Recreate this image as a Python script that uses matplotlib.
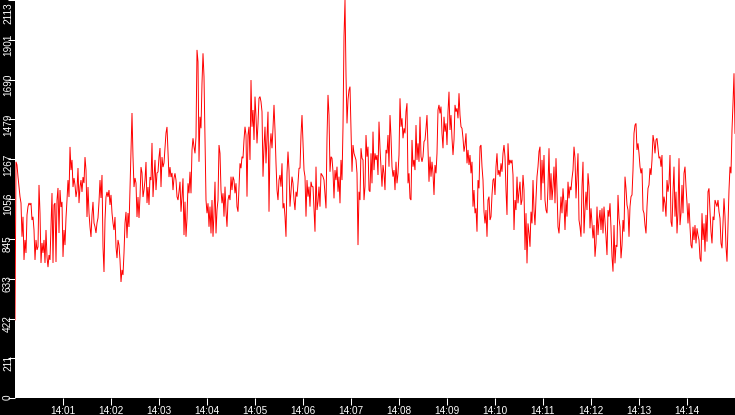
import pandas as pd
import matplotlib
matplotlib.use("Agg")
import matplotlib.pyplot as plt
import matplotlib.dates as mdates
import matplotlib.transforms as mtransforms

plt.rcParams["font.family"] = ["Liberation Sans", "DejaVu Sans"]
plt.rcParams["font.size"] = 7.2

# readings taken off the chart, one block per ~100 s of the 15 minute window
seg1 = [414, 1254, 1237, 1175, 1122, 1069, 1035, 856, 962, 733,
        839, 770, 972, 1016, 1035, 1025, 1035, 945, 962, 892,
        733, 839, 786, 803, 1131, 982, 717, 823, 770, 839,
        717, 892, 749, 695, 759, 733, 908, 1088, 717, 1025,
        1035, 722, 1051, 1115, 876, 1104, 1014, 1041, 749, 892,
        812, 956, 1051, 1157, 1067, 1333, 1210, 1264, 1120, 1168,
        1131, 1067, 1104, 1221, 1035, 1120, 1157, 1094, 1173, 1141,
        1279, 1210, 961, 1120, 982, 908, 855, 972, 1041, 929]
seg2 = [909, 876, 929, 956, 1041, 1157, 1062, 1184, 802, 669,
        945, 1067, 1094, 1067, 1104, 1025, 1078, 982, 929, 892,
        961, 802, 743, 839, 812, 733, 616, 680, 653, 770,
        929, 988, 849, 982, 908, 1104, 1306, 1513, 1279, 1120,
        1168, 1141, 961, 1067, 956, 1067, 1226, 1195, 1067, 1104,
        1157, 1253, 1035, 1120, 1025, 1173, 1157, 1354, 1067, 1173,
        1264, 1104, 1195, 1200, 1279, 1327, 1120, 1279, 1226, 1248,
        1327, 1407, 1439, 1306, 1173, 1226, 1173, 1195, 1104, 1168]
seg3 = [1193, 1157, 1069, 1051, 1095, 1148, 989, 1069, 1166, 865,
        1042, 856, 954, 1140, 1087, 1201, 1087, 1317, 1379, 1334,
        1299, 1387, 1848, 1785, 1254, 1493, 1432, 1671, 1830, 1706,
        1370, 1051, 981, 1034, 909, 1016, 874, 1051, 856, 981,
        1148, 874, 998, 1051, 1343, 1299, 1104, 1034, 1087, 963,
        1122, 989, 909, 1051, 1078, 1051, 1175, 1104, 1175, 1157,
        1087, 1140, 1016, 989, 1122, 1246, 1220, 1281, 1273, 1370,
        1440, 1396, 1069, 1396, 1440, 1264, 1688, 1440, 1529, 1370]
seg4 = [1600, 1493, 1352, 1458, 1591, 1600, 1573, 1520, 1175, 1334,
        1440, 1246, 1387, 1520, 989, 1334, 1405, 1326, 1432, 1556,
        1423, 1246, 1104, 1051, 1157, 1184, 1122, 1246, 1007, 1034,
        963, 856, 1193, 1308, 1210, 1016, 1095, 1175, 1140, 1051,
        998, 1095, 1069, 1140, 1220, 1220, 1396, 1502, 1361, 1210,
        1175, 963, 1157, 1069, 1122, 1016, 1148, 1122, 1122, 998,
        883, 1228, 998, 1042, 1122, 1016, 1193, 1184, 1175, 1157,
        1078, 1007, 1379, 1609, 1502, 1201, 1281, 1273, 1201, 1060]
seg5 = [1210, 1157, 1228, 1095, 1175, 1034, 1264, 1157, 1440, 1918,
        2113, 1715, 1458, 1583, 1635, 1653, 1423, 1201, 1343, 1299,
        1281, 1264, 1193, 812, 1095, 1051, 1326, 1273, 1264, 1051,
        1122, 1396, 1281, 1334, 1104, 1095, 1299, 1140, 1414, 1210,
        1299, 1264, 1290, 1184, 1467, 1326, 1228, 1122, 1237, 1193,
        1104, 1317, 1299, 1396, 1228, 1502, 1387, 1228, 1175, 1210,
        1104, 1254, 1140, 1193, 1290, 1591, 1440, 1485, 1379, 1432,
        1405, 1520, 1565, 1140, 1193, 1060, 1051, 1370, 1228, 1264]
seg6 = [1210, 1449, 1264, 1352, 1254, 1493, 1281, 1254, 1281, 1361,
        1370, 1432, 1502, 1317, 1148, 1281, 1175, 1254, 1193, 1078,
        1237, 1193, 1299, 1529, 1556, 1511, 1547, 1405, 1326, 1493,
        1414, 1458, 1343, 1520, 1626, 1423, 1502, 1379, 1290, 1370,
        1556, 1520, 1538, 1485, 1618, 1502, 1440, 1432, 1379, 1308,
        1343, 1405, 1246, 1317, 1237, 1290, 1193, 1254, 1016, 1104,
        981, 1007, 883, 1157, 1113, 1334, 1343, 1228, 1157, 989,
        927, 998, 856, 1051, 1069, 945, 963, 1078, 1157, 1166]
seg7 = [1078, 1228, 1299, 1184, 1210, 1175, 1246, 1201, 1299, 1343,
        1281, 1104, 972, 1352, 1237, 1264, 1246, 1264, 1184, 892,
        1051, 998, 1175, 1034, 1095, 1148, 1025, 1051, 1184, 1104,
        786, 981, 715, 927, 874, 803, 989, 927, 1157, 998,
        918, 1060, 1175, 1228, 1308, 1334, 1051, 1264, 1140, 1290,
        1051, 998, 981, 1122, 1326, 1051, 1193, 1051, 1122, 1228,
        1034, 1273, 1104, 909, 874, 963, 1069, 981, 1113, 1034,
        892, 1051, 963, 1148, 1060, 1122, 1104, 1166, 1210, 1334]
seg8 = [1273, 1060, 1175, 1299, 945, 909, 856, 1122, 1254, 874,
        998, 1095, 998, 1193, 1122, 901, 1007, 927, 848, 918,
        750, 821, 1016, 865, 945, 998, 892, 1007, 874, 1016,
        936, 856, 759, 998, 963, 1034, 901, 750, 671, 918,
        715, 812, 803, 1078, 954, 909, 742, 812, 945, 883,
        1175, 1113, 1025, 998, 856, 1016, 1069, 1078, 1210, 1405,
        1449, 1458, 1317, 1352, 1299, 1228, 1193, 1220, 998, 981,
        918, 874, 1016, 1113, 1131, 1220, 1184, 1264, 1396, 1361]
seg9 = [1299, 1370, 1379, 1326, 1273, 1281, 1228, 1290, 989, 1069,
        1034, 963, 1157, 1095, 1140, 1290, 936, 909, 1095, 1228,
        963, 1095, 874, 989, 1273, 918, 981, 1131, 981, 1193,
        1228, 1122, 1034, 927, 1034, 909, 812, 795, 909, 839,
        918, 821, 901, 865, 839, 742, 724, 981, 839, 927,
        777, 972, 830, 1095, 1113, 989, 883, 821, 963, 945,
        1051, 1034, 1016, 1051, 989, 954, 821, 795, 927, 1060,
        963, 803, 724, 909, 1104, 1228, 1193, 1423, 1565, 1724,
        1405]

y_ticks = [0, 211, 422, 633, 845, 1056, 1267, 1479, 1690, 1901, 2113]
x_tick_labels = ["14:01", "14:02", "14:03", "14:04", "14:05", "14:06", "14:07",
                 "14:08", "14:09", "14:10", "14:11", "14:12", "14:13", "14:14"]
start_time = "2024-01-01 14:00"
end_time = "2024-01-01 14:15"

values = seg1 + seg2 + seg3 + seg4 + seg5 + seg6 + seg7 + seg8 + seg9
times = mdates.date2num(pd.date_range(start_time, end_time, periods=len(values)).to_pydatetime())
tick_times = mdates.date2num(pd.date_range("2024-01-01 14:01", periods=len(x_tick_labels), freq="1min").to_pydatetime())

fig = plt.figure(figsize=(7.35, 4.15), dpi=100, facecolor="black")
ax = fig.add_axes([15 / 735, 17 / 415, 720 / 735, 398 / 415])
ax.set_facecolor("white")
for s in ax.spines.values():
    s.set_visible(False)

ax.plot(times, values, color="red", linewidth=0.7, solid_joinstyle="miter")
ax.set_xlim(times[0], times[-1])
ax.set_ylim(y_ticks[0], y_ticks[-1])

ax.set_xticks(tick_times)
ax.set_xticklabels(x_tick_labels)
ax.set_yticks(y_ticks)
ax.set_yticklabels([])
ax.tick_params(axis="both", colors="white", direction="out", length=5, width=0.75)
ax.tick_params(axis="x", pad=0.5)

# rotated y labels, sitting a bit below their tick
for v in y_ticks:
    if v == y_ticks[0]:
        va, dy = "bottom", -2
    elif v == y_ticks[-1]:
        va, dy = "top", -2
    else:
        va, dy = "center", -5
    off = mtransforms.ScaledTranslation(-2 / 100, dy / 100, fig.dpi_scale_trans)
    ax.text(0, v, str(v), transform=ax.get_yaxis_transform() + off,
            rotation=90, ha="right", va=va, color="white")

fig.savefig("out.png", dpi=100, facecolor="black")
